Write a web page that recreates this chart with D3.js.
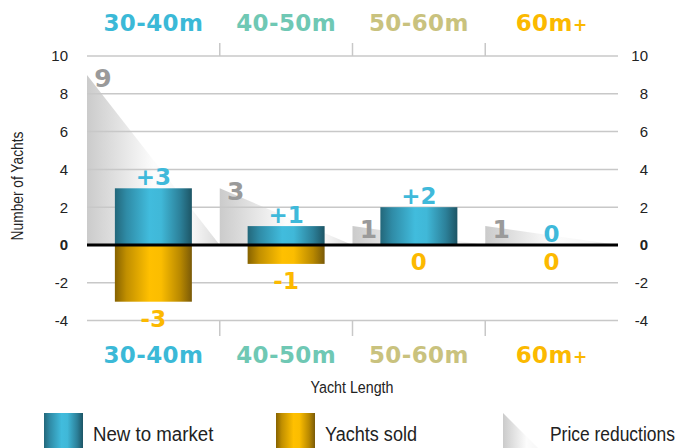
<!DOCTYPE html>
<html>
<head>
<meta charset="utf-8">
<script src="https://cdn.jsdelivr.net/npm/d3@7"></script>
<style>
  body { margin: 0; background: #fff; }
  svg { display: block; }
  .narrow { font-family: "Liberation Sans", Arial, sans-serif; }
  .bold { font-family: "DejaVu Sans", sans-serif; font-weight: bold; }
</style>
</head>
<body>
<svg id="chart"></svg>
<script>
// data
var categories = ["30-40m", "40-50m", "50-60m", "60m+"];
var newToMarket = [3, 1, 2, 0];
var yachtsSold = [-3, -1, 0, 0];
var priceReductions = [9, 3, 1, 1];
var yTicks = [-4, -2, 0, 2, 4, 6, 8, 10];
var catColors = ["#3bb9d7", "#6fc8b4", "#c9c27e", "#fbb900"];

var width = 682, height = 448;
var svg = d3.select("#chart").attr("width", width).attr("height", height);

var x = d3.scaleBand().domain(categories).range([87, 618]);
var y = d3.scaleLinear().domain([-4, 10]).range([320.6, 56]);
var bw = x.bandwidth() * 0.58;

// gradients
var defs = svg.append("defs");
function hGrad(id, stops) {
  var g = defs.append("linearGradient").attr("id", id)
    .attr("x1", "0%").attr("x2", "100%").attr("y1", "0%").attr("y2", "0%");
  stops.forEach(function(s) {
    g.append("stop").attr("offset", s[0]).attr("stop-color", s[1]);
  });
}
hGrad("blueGrad", [["0%", "#23677a"], ["15%", "#2f8ba6"], ["45%", "#41bcdd"], ["60%", "#40b8d8"], ["85%", "#2c8099"], ["100%", "#1d5565"]]);
hGrad("goldGrad", [["0%", "#866200"], ["15%", "#c18f00"], ["45%", "#ffc000"], ["60%", "#fbbd00"], ["85%", "#b88800"], ["100%", "#7a5a08"]]);
hGrad("greyGrad", [["0%", "#cbcbcb"], ["50%", "#fcfcfc"], ["80%", "#f6f6f6"], ["100%", "#dadada"]]);

// price reduction triangles (under the grid)
svg.append("g").selectAll("path")
  .data(priceReductions).enter().append("path")
  .attr("d", function(d, i) {
    var x0 = x(categories[i]), x1 = x0 + x.bandwidth();
    return "M" + x0 + "," + y(0) + "L" + x0 + "," + y(d) + "L" + x1 + "," + y(0) + "Z";
  })
  .attr("fill", "url(#greyGrad)");

// gridlines
svg.append("g").selectAll("line")
  .data(yTicks.filter(function(d) { return d !== 0; }))
  .enter().append("line")
  .attr("x1", 87).attr("x2", 618)
  .attr("y1", function(d) { return y(d); }).attr("y2", function(d) { return y(d); })
  .attr("stroke", "#c8c8c8").attr("stroke-width", 1.5);

// category divider ticks top and bottom
var dividers = categories.slice(1);
[[43, 56], [321, 336]].forEach(function(r) {
  svg.append("g").selectAll("line")
    .data(dividers).enter().append("line")
    .attr("x1", function(d) { return x(d); }).attr("x2", function(d) { return x(d); })
    .attr("y1", r[0]).attr("y2", r[1])
    .attr("stroke", "#c8c8c8").attr("stroke-width", 1.5);
});

svg.append("g").selectAll("text")
  .data(priceReductions).enter().append("text")
  .attr("class", "bold")
  .attr("x", function(d, i) { return x(categories[i]) + 16; })
  .attr("y", function(d) { return y(d) + 12; })
  .attr("text-anchor", "middle")
  .attr("font-size", 25)
  .attr("fill", "#9a9a9a")
  .text(function(d) { return d; });

// bars
svg.append("g").selectAll("rect")
  .data(newToMarket).enter().append("rect")
  .attr("x", function(d, i) { return x(categories[i]) + (x.bandwidth() - bw) / 2; })
  .attr("width", bw)
  .attr("y", function(d) { return y(d); })
  .attr("height", function(d) { return y(0) - y(d); })
  .attr("fill", "url(#blueGrad)");

svg.append("g").selectAll("rect")
  .data(yachtsSold).enter().append("rect")
  .attr("x", function(d, i) { return x(categories[i]) + (x.bandwidth() - bw) / 2; })
  .attr("width", bw)
  .attr("y", y(0))
  .attr("height", function(d) { return y(d) - y(0); })
  .attr("fill", "url(#goldGrad)");

// zero line
svg.append("line")
  .attr("x1", 87).attr("x2", 618)
  .attr("y1", y(0)).attr("y2", y(0))
  .attr("stroke", "#000").attr("stroke-width", 3);

// bar labels
svg.append("g").selectAll("text")
  .data(newToMarket).enter().append("text")
  .attr("class", "bold")
  .attr("x", function(d, i) { return x(categories[i]) + x.bandwidth() / 2; })
  .attr("y", function(d) { return y(d) - 3; })
  .attr("text-anchor", "middle")
  .attr("font-size", 23)
  .attr("fill", "#3fb9da")
  .text(function(d) { return d > 0 ? "+" + d : d; });

svg.append("g").selectAll("text")
  .data(yachtsSold).enter().append("text")
  .attr("class", "bold")
  .attr("x", function(d, i) { return x(categories[i]) + x.bandwidth() / 2; })
  .attr("y", function(d) { return y(d) + 25; })
  .attr("text-anchor", "middle")
  .attr("font-size", 23)
  .attr("fill", "#fcb900")
  .text(function(d) { return d < 0 ? "-" + Math.abs(d) : d; });

// y axes
function styleAxis(g) {
  g.select(".domain").remove();
  g.selectAll("text")
    .attr("class", "narrow")
    .attr("font-size", 15)
    .attr("fill", "#222")
    .attr("font-weight", function(d) { return d === 0 ? "bold" : null; })
    .attr("font-family", null);
}
var fmt = function(d) { return String(d); };
var yl = svg.append("g").attr("transform", "translate(87,0)")
  .call(d3.axisLeft(y).tickValues(yTicks).tickFormat(fmt).tickSize(0).tickPadding(19));
styleAxis(yl);
var yr = svg.append("g").attr("transform", "translate(618,0)")
  .call(d3.axisRight(y).tickValues(yTicks).tickFormat(fmt).tickSize(0).tickPadding(30));
styleAxis(yr);
yr.selectAll("text").attr("text-anchor", "end");

// category labels, top and bottom
[31, 363].forEach(function(yy) {
  var t = svg.append("g").selectAll("text")
    .data(categories).enter().append("text")
    .attr("class", "bold")
    .attr("x", function(d) { return x(d) + x.bandwidth() / 2; })
    .attr("y", yy)
    .attr("text-anchor", "middle")
    .attr("font-size", 23)
    .attr("letter-spacing", 0.4)
    .attr("fill", function(d, i) { return catColors[i]; });
  t.each(function(d) {
    var el = d3.select(this);
    if (d.slice(-1) === "+") {
      el.append("tspan").text(d.slice(0, -1));
      el.append("tspan").attr("font-size", 17).text("+");
    } else {
      el.text(d);
    }
  });
});

// axis titles (squeezed to look like a condensed face)
svg.append("text").attr("class", "narrow")
  .attr("transform", "translate(23,186) rotate(-90) scale(0.86,1)")
  .attr("text-anchor", "middle")
  .attr("font-size", 16)
  .attr("fill", "#222")
  .text("Number of Yachts");

svg.append("text").attr("class", "narrow")
  .attr("transform", "translate(352,393) scale(0.84,1)")
  .attr("text-anchor", "middle")
  .attr("font-size", 17)
  .attr("fill", "#222")
  .text("Yacht Length");

// legend
var legend = [
  {label: "New to market", fill: "url(#blueGrad)", x: 44, type: "rect", sx: 0.89},
  {label: "Yachts sold", fill: "url(#goldGrad)", x: 276, type: "rect", sx: 0.86},
  {label: "Price reductions", fill: "url(#greyGrad)", x: 503, type: "tri", sx: 0.83}
];
var lg = svg.append("g").selectAll("g").data(legend).enter().append("g");
lg.each(function(d) {
  var g = d3.select(this);
  var tx;
  if (d.type === "rect") {
    g.append("rect").attr("x", d.x).attr("y", 413).attr("width", 39).attr("height", 40).attr("fill", d.fill);
    tx = d.x + 49;
  } else {
    g.append("path").attr("d", "M" + d.x + ",413L" + d.x + ",460L" + (d.x + 47) + ",460Z")
      .attr("fill", d.fill);
    tx = d.x + 47;
  }
  g.append("text").attr("class", "narrow")
    .attr("transform", "translate(" + tx + ",441) scale(" + d.sx + ",1)")
    .attr("font-size", 21)
    .attr("fill", "#222").text(d.label);
});
</script>
</body>
</html>
